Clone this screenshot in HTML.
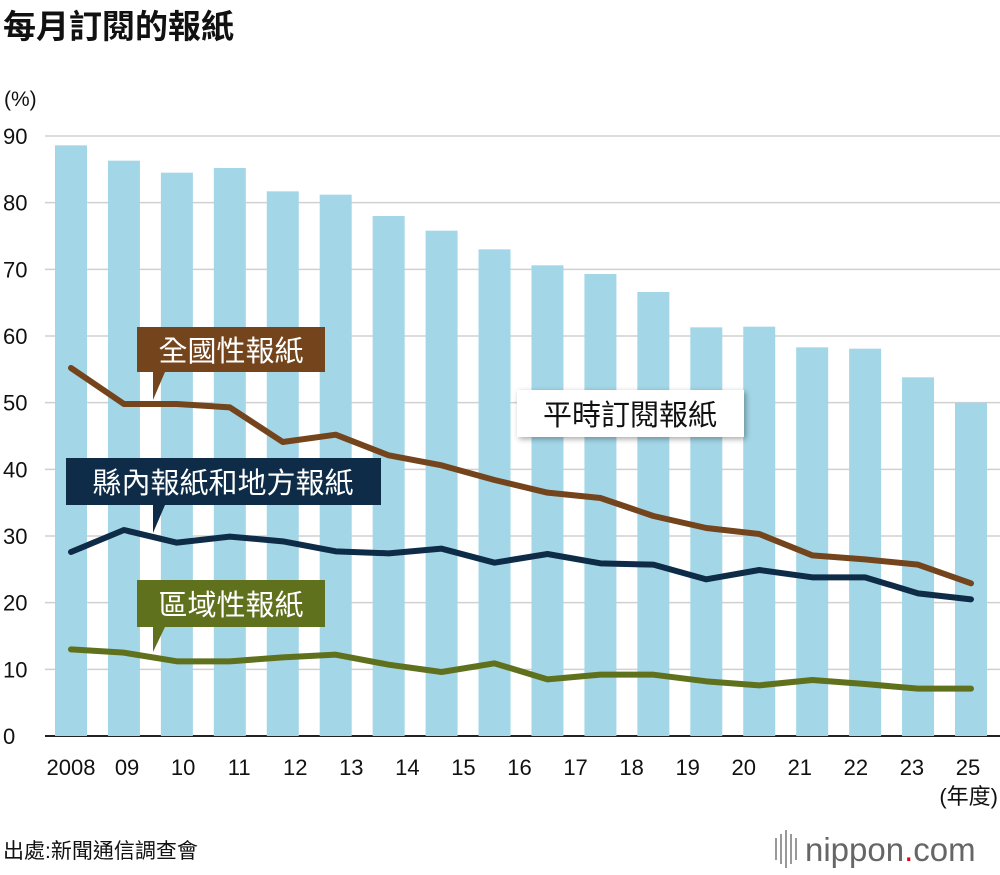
<!DOCTYPE html>
<html><head><meta charset="utf-8"><style>
body{margin:0;background:#fff;width:1000px;height:870px;overflow:hidden;font-family:"Liberation Sans","Noto Sans CJK TC",sans-serif}
</style></head><body>
<svg width="1000" height="870" xmlns="http://www.w3.org/2000/svg" font-family="Liberation Sans, Noto Sans CJK TC, sans-serif">
<text x="3" y="38" font-size="33" font-weight="bold" fill="#111">每月訂閱的報紙</text>
<text x="4" y="106" font-size="21" fill="#111">(%)</text>
<g id="grid"></g><g id="bars"></g><g id="lines"></g>
<g id="labels">
<rect x="517" y="390" width="227" height="47" fill="#fff" style="filter:drop-shadow(2px 2px 3px rgba(0,0,0,0.35))"/>
<text x="630" y="425" font-size="29" text-anchor="middle" fill="#111">平時訂閱報紙</text>
<path d="M137,327H325V372H165L153,400V372H137Z" fill="#74451d"/>
<text x="231" y="361" font-size="29" text-anchor="middle" fill="#fff">全國性報紙</text>
<path d="M66,458H381V505H165L153,533V505H66Z" fill="#0e2c47"/>
<text x="223" y="493" font-size="29" text-anchor="middle" fill="#fff">縣內報紙和地方報紙</text>
<path d="M137,580H325V627H165L153,652V627H137Z" fill="#5f711d"/>
<text x="231" y="615" font-size="29" text-anchor="middle" fill="#fff">區域性報紙</text>
</g>
<g id="xt"></g>
<text x="998" y="804" font-size="22" text-anchor="end" fill="#111">(年度)</text>
<text x="3" y="858" font-size="21" fill="#111">出處:新聞通信調查會</text>
<g>
<rect x="775" y="838" width="2" height="22" fill="#999"/><rect x="780" y="834" width="2" height="30" fill="#999"/><rect x="785" y="830" width="2" height="38" fill="#999"/><rect x="790" y="834" width="2" height="30" fill="#999"/><rect x="795" y="838" width="2" height="22" fill="#999"/>
<text x="805" y="861" font-size="33" fill="#666">nippon<tspan fill="#e60012">.</tspan>com</text></g>
</svg>
<script>
const yTicks=[0,10,20,30,40,50,60,70,80,90];
const xTickLabels=["2008","09","10","11","12","13","14","15","16","17","18","19","20","21","22","23","25"];
const total=[88.6,86.3,84.5,85.2,81.7,81.2,78.0,75.8,73.0,70.6,69.3,66.6,61.3,61.4,58.3,58.1,53.8,50.0];
const national=[55.2,49.8,49.8,49.3,44.1,45.2,42.1,40.6,38.4,36.5,35.7,33.0,31.2,30.3,27.1,26.5,25.7,22.9];
const prefectural=[27.6,30.9,29.0,29.9,29.2,27.7,27.4,28.1,26.0,27.3,25.9,25.7,23.5,24.9,23.8,23.8,21.4,20.5];
const regional=[13.0,12.5,11.2,11.2,11.8,12.2,10.7,9.6,10.9,8.5,9.2,9.2,8.2,7.6,8.4,7.8,7.1,7.1];
const NS="http://www.w3.org/2000/svg";
const y=v=>736-v*600/90;
const x=i=>71+i*(971-71)/(total.length-1);
const xt=i=>71+i*(968-71)/(xTickLabels.length-1);
function mk(t,a,p){const e=document.createElementNS(NS,t);for(const k in a)e.setAttribute(k,a[k]);document.getElementById(p).appendChild(e);return e;}
yTicks.forEach(v=>{
 const l=mk('line',{x1:45,x2:1000,y1:y(v),y2:y(v),stroke:v?'#d0d0d0':'#222','stroke-width':v?1.5:2},'grid');
 
 
 const t=mk('text',{x:3,y:y(v)+8,'font-size':22,fill:'#111'},'grid');t.textContent=v;
 
 
});
total.forEach((v,i)=>{
 const r=mk('rect',{x:x(i)-16,y:y(v),width:32,height:y(0)-y(v),fill:'#a3d7e8'},'bars');
 
 
});
[[national,'#74451d','line-national'],[prefectural,'#0e2c47','line-prefectural'],[regional,'#5f711d','line-regional']].forEach(([d,c,n])=>{
 const p=mk('polyline',{points:d.map((v,i)=>x(i)+','+y(v)).join(' '),fill:'none',stroke:c,'stroke-width':6,'stroke-linejoin':'round','stroke-linecap':'round'},'lines');
 
 
});
xTickLabels.forEach((s,i)=>{
 const t=mk('text',{x:xt(i),y:775,'font-size':22,'text-anchor':'middle',fill:'#111'},'xt');t.textContent=s;
 
 
});
</script>
</body></html>
